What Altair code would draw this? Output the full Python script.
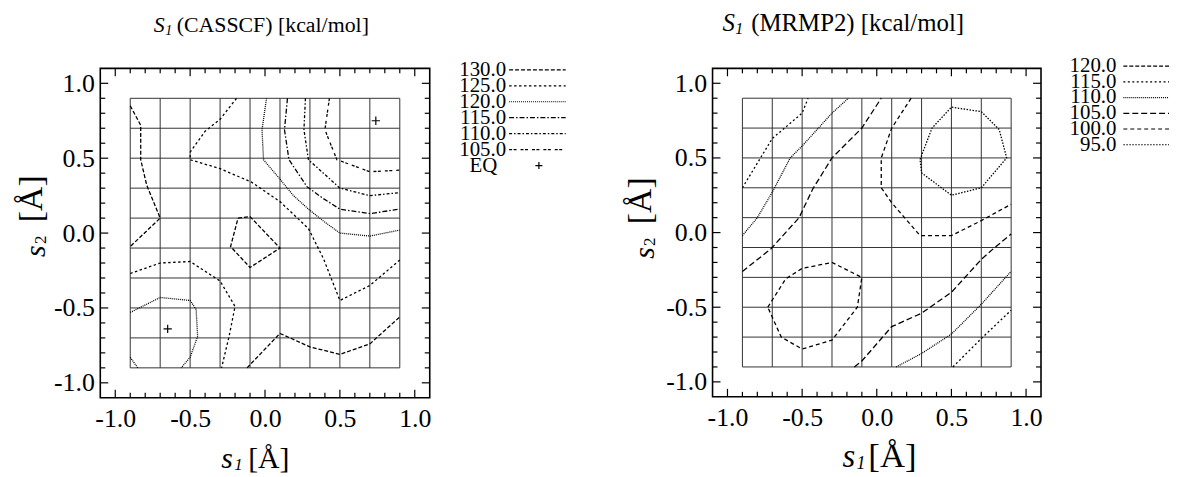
import altair as alt
import pandas as pd

FONT = "Liberation Serif"

# axis ticks / grid
major_ticks = [-1.0, -0.5, 0.0, 0.5, 1.0]
minor_ticks = [-0.9, -0.8, -0.7, -0.6, -0.4, -0.3, -0.2, -0.1,
               0.1, 0.2, 0.3, 0.4, 0.6, 0.7, 0.8, 0.9]
grid_vals = [-0.9, -0.7, -0.5, -0.3, -0.1, 0.1, 0.3, 0.5, 0.7, 0.9]

# ---------- S1 (CASSCF) contours ----------
cas_levels = ["130.0", "125.0", "120.0", "115.0", "110.0", "105.0"]
cas_a_x = [-0.90, -0.83, -0.83, -0.79, -0.70, -0.90]
cas_a_y = [0.85, 0.72, 0.49, 0.32, 0.10, -0.09]
cas_b_x = [-0.19, -0.30, -0.40, -0.50, -0.50, -0.30, -0.09, 0.10, 0.29, 0.39, 0.50, 0.70, 0.90]
cas_b_y = [0.90, 0.76, 0.68, 0.54, 0.49, 0.43, 0.34, 0.21, 0.03, -0.17, -0.45, -0.35, -0.18]
cas_c_x = [0.01, -0.02, -0.01, 0.10, 0.19, 0.29, 0.39, 0.50, 0.70, 0.90]
cas_c_y = [0.90, 0.69, 0.49, 0.36, 0.25, 0.16, 0.08, 0.00, -0.02, 0.02]
cas_d_x = [0.15, 0.13, 0.16, 0.28, 0.39, 0.50, 0.70, 0.90]
cas_d_y = [0.90, 0.69, 0.49, 0.31, 0.23, 0.16, 0.13, 0.16]
cas_e_x = [0.27, 0.26, 0.29, 0.39, 0.50, 0.70, 0.90]
cas_e_y = [0.90, 0.69, 0.49, 0.40, 0.30, 0.25, 0.27]
cas_f_x = [0.43, 0.40, 0.48, 0.70, 0.90]
cas_f_y = [0.90, 0.69, 0.49, 0.41, 0.42]
cas_g_x = [-0.18, -0.10, 0.10, -0.10, -0.23, -0.18]
cas_g_y = [0.10, 0.11, -0.10, -0.23, -0.09, 0.10]
cas_h_x = [-0.90, -0.70, -0.50, -0.30, -0.20, -0.24, -0.29]
cas_h_y = [-0.27, -0.20, -0.19, -0.32, -0.49, -0.69, -0.90]
cas_i_x = [-0.90, -0.70, -0.50, -0.46, -0.45, -0.50, -0.56]
cas_i_y = [-0.53, -0.43, -0.45, -0.51, -0.69, -0.83, -0.90]
cas_j_x = [-0.90, -0.85]
cas_j_y = [-0.83, -0.90]
cas_k_x = [-0.12, 0.10, 0.30, 0.50, 0.70, 0.90]
cas_k_y = [-0.90, -0.67, -0.76, -0.81, -0.74, -0.56]
cas_eq_x = [0.74, -0.65]
cas_eq_y = [0.75, -0.64]

# ---------- S1 (MRMP2) contours ----------
mr_levels = ["120.0", "115.0", "110.0", "105.0", "100.0", "95.0"]
mr_a_x = [-0.90, -0.70, -0.50, -0.46]
mr_a_y = [0.30, 0.63, 0.80, 0.90]
mr_b_x = [-0.90, -0.80, -0.70, -0.58, -0.50, -0.30, -0.19]
mr_b_y = [-0.02, 0.10, 0.27, 0.50, 0.58, 0.80, 0.90]
mr_c_x = [-0.90, -0.71, -0.52, -0.43, -0.30, -0.10, 0.03]
mr_c_y = [-0.26, -0.11, 0.10, 0.29, 0.50, 0.70, 0.90]
mr_d_x = [0.23, 0.10, 0.03, 0.03, 0.10, 0.29, 0.50, 0.70, 0.90]
mr_d_y = [0.90, 0.70, 0.50, 0.30, 0.20, -0.02, -0.02, 0.08, 0.19]
mr_e_x = [0.29, 0.37, 0.50, 0.70, 0.82, 0.87, 0.70, 0.50, 0.30, 0.29]
mr_e_y = [0.49, 0.70, 0.84, 0.81, 0.69, 0.50, 0.30, 0.25, 0.40, 0.49]
mr_f_x = [-0.73, -0.61, -0.50, -0.30, -0.10, -0.13, -0.30, -0.50, -0.64, -0.73]
mr_f_y = [-0.50, -0.31, -0.24, -0.20, -0.30, -0.50, -0.72, -0.78, -0.70, -0.50]
mr_g_x = [-0.15, -0.10, 0.10, 0.30, 0.50, 0.70, 0.79, 0.90]
mr_g_y = [-0.90, -0.86, -0.63, -0.54, -0.40, -0.18, -0.10, -0.01]
mr_h_x = [0.13, 0.30, 0.50, 0.70, 0.90]
mr_h_y = [-0.90, -0.81, -0.68, -0.48, -0.26]
mr_i_x = [0.51, 0.70, 0.90]
mr_i_y = [-0.90, -0.71, -0.52]

cas_lines = [("a", "130.0", cas_a_x, cas_a_y), ("b", "125.0", cas_b_x, cas_b_y),
             ("c", "120.0", cas_c_x, cas_c_y), ("d", "115.0", cas_d_x, cas_d_y),
             ("e", "110.0", cas_e_x, cas_e_y), ("f", "105.0", cas_f_x, cas_f_y),
             ("g", "130.0", cas_g_x, cas_g_y), ("h", "125.0", cas_h_x, cas_h_y),
             ("i", "120.0", cas_i_x, cas_i_y), ("j", "120.0", cas_j_x, cas_j_y),
             ("k", "130.0", cas_k_x, cas_k_y)]
mr_lines = [("a", "115.0", mr_a_x, mr_a_y), ("b", "110.0", mr_b_x, mr_b_y),
            ("c", "105.0", mr_c_x, mr_c_y), ("d", "100.0", mr_d_x, mr_d_y),
            ("e", "95.0", mr_e_x, mr_e_y), ("f", "100.0", mr_f_x, mr_f_y),
            ("g", "105.0", mr_g_x, mr_g_y), ("h", "110.0", mr_h_x, mr_h_y),
            ("i", "115.0", mr_i_x, mr_i_y)]

# line styles (dash patterns) per level
cas_dash = [[4, 2], [2.5, 2.5], [1, 1], [5, 2, 1.5, 2], [3, 2, 1.5, 2], [3, 1.5, 3, 4]]
mr_dash = [[4, 2], [2, 2.5], [1, 1], [6, 3], [4, 3], [1.5, 1.5]]


def lines_df(lines):
    rows = []
    for lid, lev, xs, ys in lines:
        for k, (x, y) in enumerate(zip(xs, ys)):
            rows.append({"line": lid, "level": lev, "ord": k, "x": x, "y": y})
    return pd.DataFrame(rows)


LABEL_EXPR = "(datum.value < 0 ? '-' : '') + format(abs(datum.value), '.1f')"
one = pd.DataFrame({"a": [0]})


def txt(s, x, y, size, italic=False, angle=0, align="left"):
    kw = dict(text=s, font=FONT, fontSize=size, color="black", align=align,
              baseline="alphabetic")
    if italic:
        kw["fontStyle"] = "italic"
    if angle:
        kw["angle"] = angle
    return alt.Chart(one).mark_text(**kw).encode(x=alt.value(x), y=alt.value(y))


def panel(lines, levels, dashes, eq_x, eq_y, titles, leg_cfg, w, h):
    xs = alt.Scale(domain=[-1.1, 1.1], nice=False, zero=False)
    ys = alt.Scale(domain=[-1.1, 1.1], nice=False, zero=False)
    dscale = alt.Scale(domain=levels, range=dashes)
    ax = alt.Axis(values=major_ticks, labelExpr=LABEL_EXPR, title=None,
                  labelPadding=8, labelFlush=False, labelOverlap=False,
                  domain=False, ticks=False, grid=False)
    ay = alt.Axis(values=major_ticks, labelExpr=LABEL_EXPR, title=None,
                  labelPadding=6, labelFlush=False, labelOverlap=False,
                  domain=False, ticks=False, grid=False)

    def X(f):
        return alt.X(f, scale=xs, axis=ax)

    def Y(f):
        return alt.Y(f, scale=ys, axis=ay)

    gdf = pd.DataFrame({"g": grid_vals, "lo": min(grid_vals), "hi": max(grid_vals)})
    gv = alt.Chart(gdf).mark_rule(color="#333333", strokeWidth=1).encode(
        x=X("g:Q"), y=Y("lo:Q"), y2="hi:Q")
    gh = alt.Chart(gdf).mark_rule(color="#333333", strokeWidth=1).encode(
        y=Y("g:Q"), x=X("lo:Q"), x2="hi:Q")

    layers = [gv, gh]
    for vals, ln in ((major_ticks, 8), (minor_ticks, 5)):
        tdf = pd.DataFrame({"t": vals})
        base = alt.Chart(tdf).mark_rule(color="black", strokeWidth=1.2)
        layers += [
            base.encode(x=X("t:Q"), y=alt.value(h), y2=alt.value(h - ln)),
            base.encode(x=X("t:Q"), y=alt.value(0), y2=alt.value(ln)),
            base.encode(y=Y("t:Q"), x=alt.value(0), x2=alt.value(ln)),
            base.encode(y=Y("t:Q"), x=alt.value(w), x2=alt.value(w - ln)),
        ]

    cont = alt.Chart(lines_df(lines)).mark_line(color="black", strokeWidth=1.3).encode(
        x=X("x:Q"), y=Y("y:Q"),
        detail="line:N", order="ord:Q",
        strokeDash=alt.StrokeDash("level:N", scale=dscale, legend=None))
    layers.append(cont)

    if eq_x:
        eq = alt.Chart(pd.DataFrame({"x": eq_x, "y": eq_y})).mark_point(
            shape="M-1,0L1,0M0,-1L0,1", size=70, color="black", strokeWidth=1.2,
            filled=False, opacity=1).encode(x=X("x:Q"), y=Y("y:Q"))
        layers.append(eq)

    layers += titles
    main = alt.layer(*layers)

    # legend
    leg_levels = levels + (["EQ"] if eq_x else [])
    n = len(leg_levels)
    ldf = pd.DataFrame({"row": list(range(n)), "level": leg_levels})
    lscale = alt.Scale(domain=[0, n - 1], range=leg_cfg["range"])
    tx_r, r0, r1, eq_tx, eq_px = leg_cfg["x"]
    num = ldf[ldf.level != "EQ"]
    LY = alt.Y("row:Q", scale=lscale, axis=None)
    lt = alt.Chart(num).mark_text(align="right", baseline="middle", font=FONT,
                                  fontSize=21, color="black").encode(
        x=alt.value(tx_r), y=LY, text="level:N")
    lr = alt.Chart(num).mark_rule(color="black", strokeWidth=1.2).encode(
        x=alt.value(r0), x2=alt.value(r1), y=LY,
        strokeDash=alt.StrokeDash("level:N", scale=dscale, legend=None))
    leg_layers = [lt, lr]
    if eq_x:
        eqrow = ldf[ldf.level == "EQ"]
        leg_layers.append(alt.Chart(eqrow).mark_text(align="center", baseline="middle", font=FONT,
                                                     fontSize=21, color="black").encode(
            x=alt.value(eq_tx), y=LY, text="level:N"))
        leg_layers.append(alt.Chart(eqrow).mark_point(
            shape="M-1,0L1,0M0,-1L0,1", size=50, color="black", strokeWidth=1.2,
            filled=False, opacity=1).encode(x=alt.value(eq_px), y=LY))
    legend = alt.layer(*leg_layers)
    return alt.layer(main, legend).resolve_scale(y="independent").properties(width=w, height=h)


left_titles = [
    txt("S", 54, -37, 22, italic=True),
    txt("1", 65.5, -34, 14, italic=True),
    txt("(CASSCF) [kcal/mol]", 77, -37, 22),
    txt("s", 122, 403, 30, italic=True),
    txt("1", 135, 405, 17, italic=True),
    txt("[Å]", 149, 403, 30),
    txt("s", -56, 190, 30, italic=True, angle=270),
    txt("2", -55, 177, 17, angle=270),
    txt("[Å]", -59, 155, 34, angle=270),
]
right_titles = [
    txt("S", 10, -38, 25, italic=True),
    txt("1", 23, -35, 16, italic=True),
    txt("(MRMP2) [kcal/mol]", 39, -38, 25),
    txt("s", 131, 402, 33, italic=True),
    txt("1", 145, 404, 18, italic=True),
    txt("[Å]", 157, 402, 35),
    txt("s", -59, 192, 30, italic=True, angle=270),
    txt("2", -58, 179, 17, angle=270),
    txt("[Å]", -62, 157, 34, angle=270),
]

left = panel(cas_lines, cas_levels, cas_dash, cas_eq_x, cas_eq_y, left_titles,
             {"range": [1.5, 98], "x": (409, 412, 469, 386, 442)}, 332, 332)
right = panel(mr_lines, mr_levels, mr_dash, [], [], right_titles,
              {"range": [-2.3, 77], "x": (407, 414, 460, 0, 0)}, 331, 331)

chart = alt.hconcat(left, right, spacing=56).resolve_scale(
    x="independent", y="independent", strokeDash="independent"
).properties(
    padding={"left": 6, "top": 0, "right": 0, "bottom": 0}
).configure_view(
    stroke="black", strokeWidth=1.6
).configure_axis(
    labelFont=FONT, labelFontSize=26, labelColor="black",
    domain=False, ticks=False, grid=False
)

chart.save("out.html", embed_options={"renderer": "svg", "actions": False})
